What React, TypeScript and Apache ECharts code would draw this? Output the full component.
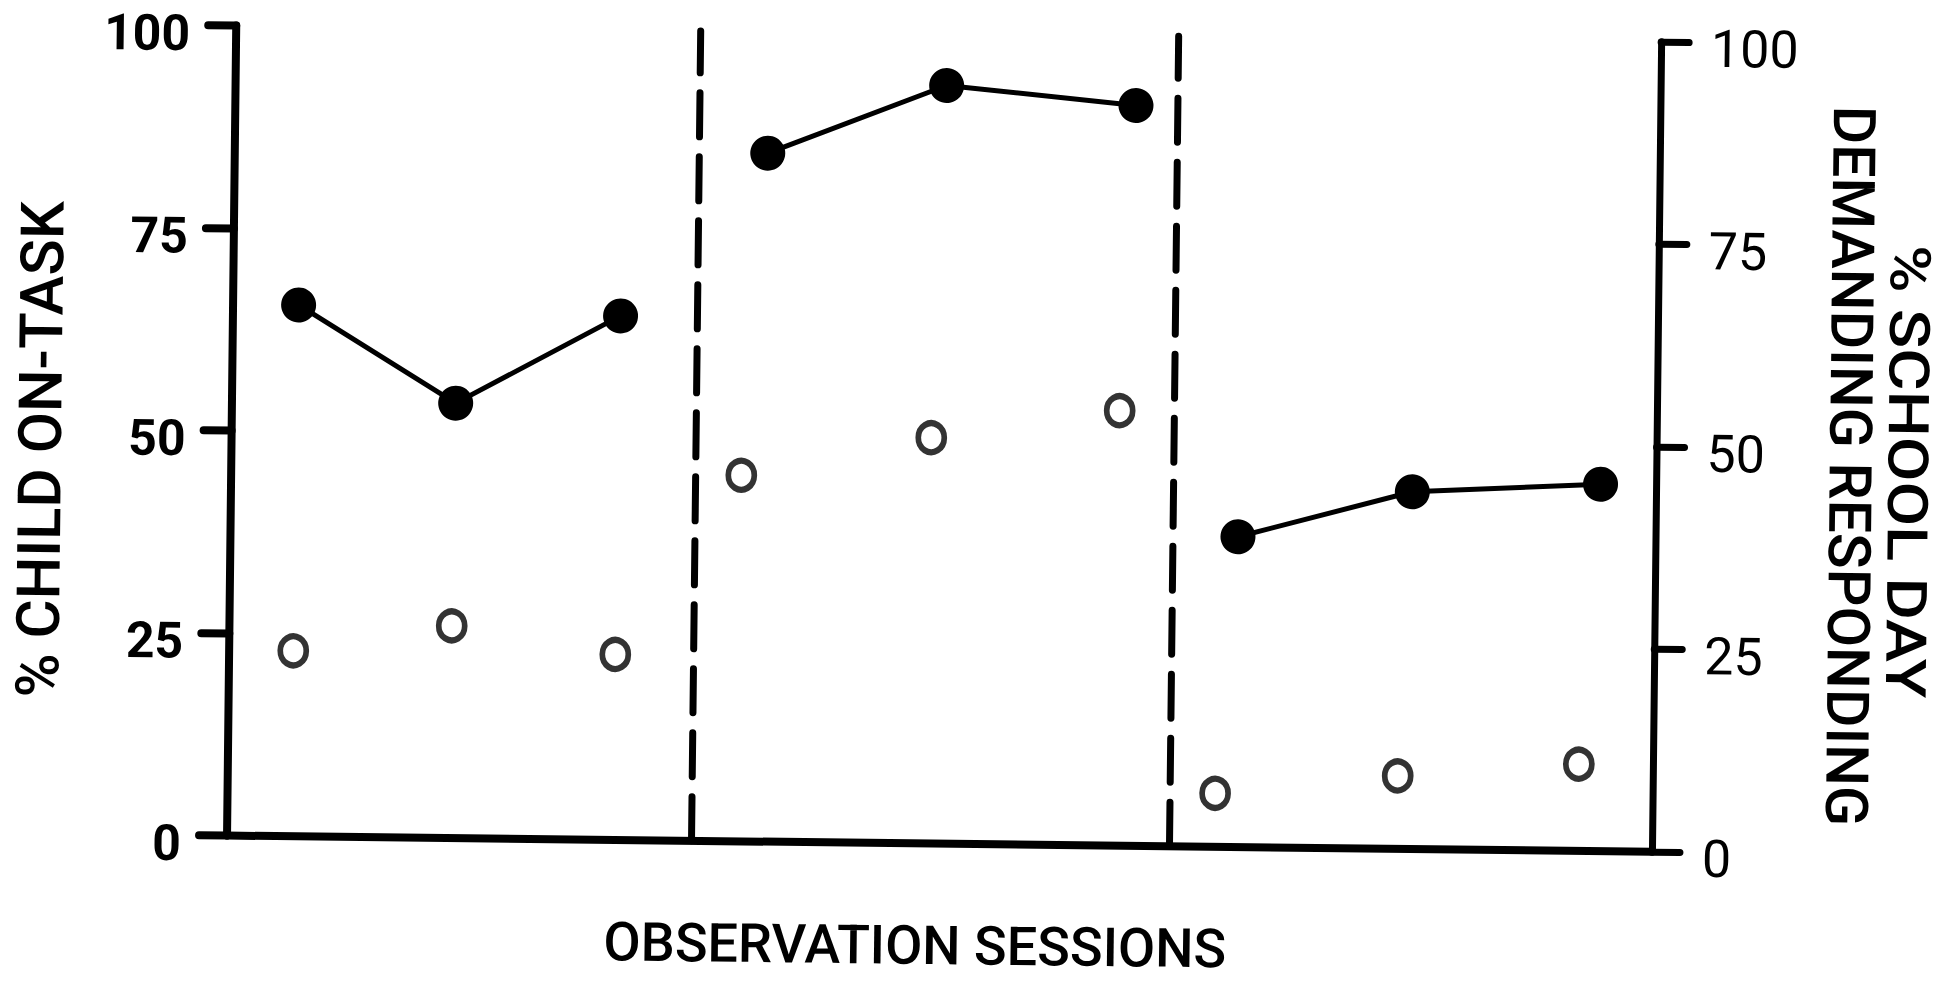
import React, { useEffect, useRef } from "react";
import * as echarts from "echarts";

// Session positions along the observation axis (0–10 scale across the plot)
const filledSessions = [0.46, 1.57, 2.72, 3.74, 4.99, 6.32, 7.07, 8.29, 9.61];
const openSessions = [0.45, 1.56, 2.71, 3.58, 4.91, 6.23, 6.93, 8.21, 9.48];
// % child on-task (filled circles, left axis)
const childOnTask = [65.6, 53.7, 64.7, 85.0, 93.6, 91.4, 38.3, 44.1, 45.3];
// % school day demanding responding (open circles, right axis)
const schoolDayDemanding = [22.9, 26.2, 22.9, 45.2, 50.1, 53.7, 6.6, 9.0, 10.7];
// phase change lines
const phaseBreaks = [3.26, 6.61];
const phaseLength = 3;
const yTicks = [0, 25, 50, 75, 100];

const leftTitle = "% CHILD ON-TASK";
const rightTitleLines = ["% SCHOOL DAY", "DEMANDING RESPONDING"];
const xTitle = "OBSERVATION SESSIONS";

const INK = "#000000";
const FONT = "Roboto";

export default function App() {
  const ref = useRef<HTMLDivElement>(null);

  useEffect(() => {
    if (!ref.current) return;
    const chart = echarts.init(ref.current, undefined, { renderer: "svg" });

    const phases = [0, 1, 2];
    const filledSeries = phases.map((p) => ({
      type: "line",
      xAxisIndex: 0,
      yAxisIndex: 0,
      data: filledSessions
        .slice(p * phaseLength, p * phaseLength + phaseLength)
        .map((x, i) => [x, childOnTask[p * phaseLength + i]]),
      symbol: "circle",
      symbolSize: 35,
      showSymbol: true,
      itemStyle: { color: INK },
      lineStyle: { color: INK, width: 5 },
      z: 3,
    }));

    const yAxisBase = {
      type: "value",
      min: 0,
      max: yTicks[yTicks.length - 1],
      interval: 25,
      splitLine: { show: false },
    };

    chart.setOption({
      animation: false,
      backgroundColor: "#ffffff",
      grid: { left: 231, right: 291, top: 34, bottom: 137, outerBoundsMode: "none" },
      xAxis: {
        type: "value",
        min: 0,
        max: 10,
        axisLine: { show: true, onZero: false, lineStyle: { color: INK, width: 8, cap: "round" } },
        axisTick: { show: false },
        axisLabel: { show: false },
        splitLine: { show: false },
      },
      yAxis: [
        {
          ...yAxisBase,
          position: "left",
          axisLine: { show: true, lineStyle: { color: INK, width: 8, cap: "round" } },
          axisTick: { show: true, length: 28, lineStyle: { color: INK, width: 8, cap: "round" } },
          axisLabel: {
            color: INK,
            fontFamily: FONT,
            fontSize: 50,
            fontWeight: "bold",
            margin: 46,
            verticalAlign: "top",
            lineHeight: 16,
          },
        },
        {
          ...yAxisBase,
          position: "right",
          axisLine: { show: true, lineStyle: { color: INK, width: 7, cap: "round" } },
          axisTick: { show: true, length: 28, lineStyle: { color: INK, width: 7, cap: "round" } },
          axisLabel: {
            color: INK,
            fontFamily: FONT,
            fontSize: 52,
            margin: 50,
            verticalAlign: "top",
            lineHeight: 14,
          },
        },
      ],
      series: [
        ...filledSeries,
        {
          type: "scatter",
          xAxisIndex: 0,
          yAxisIndex: 1,
          data: openSessions.map((x, i) => [x, schoolDayDemanding[i]]),
          symbol: "circle",
          symbolSize: [26, 29],
          itemStyle: { color: "#ffffff", borderColor: INK, borderWidth: 6 },
          z: 3,
          markLine: {
            silent: true,
            symbol: ["none", "none"],
            label: { show: false },
            lineStyle: { color: INK, width: 7, type: [44, 20], cap: "round" },
            data: phaseBreaks.map((x) => ({ xAxis: x })),
          },
        },
      ],
      graphic: [
        {
          type: "text",
          x: 40,
          y: 460,
          rotation: Math.PI / 2,
          style: {
            text: leftTitle,
            fontFamily: FONT,
            fontSize: 60,
            fontWeight: 500,
            fill: INK,
            textAlign: "center",
            textVerticalAlign: "middle",
          },
        },
        {
          type: "text",
          x: 1907,
          y: 461,
          rotation: -Math.PI / 2,
          scaleX: 1.16,
          style: {
            text: rightTitleLines[0],
            fontFamily: FONT,
            fontSize: 56,
            fontWeight: 500,
            fill: INK,
            textAlign: "center",
            textVerticalAlign: "middle",
          },
        },
        {
          type: "text",
          x: 1850,
          y: 456,
          rotation: -Math.PI / 2,
          style: {
            text: rightTitleLines[1],
            fontFamily: FONT,
            fontSize: 59,
            fontWeight: 500,
            fill: INK,
            textAlign: "center",
            textVerticalAlign: "middle",
          },
        },
        {
          type: "text",
          x: 920,
          y: 946,
          style: {
            text: xTitle,
            fontFamily: FONT,
            fontSize: 54,
            fontWeight: 500,
            fill: INK,
            textAlign: "center",
            textVerticalAlign: "middle",
          },
        },
      ],
    });

    return () => chart.dispose();
  }, []);

  return (
    <div
      style={{
        position: "fixed",
        left: 0,
        top: 0,
        width: 1947,
        height: 981,
        background: "#ffffff",
        overflow: "hidden",
      }}
    >
      <div
        ref={ref}
        style={{
          width: 1947,
          height: 981,
          transform: "rotate(0.65deg)",
          transformOrigin: "973.5px 490.5px",
        }}
      />
    </div>
  );
}
